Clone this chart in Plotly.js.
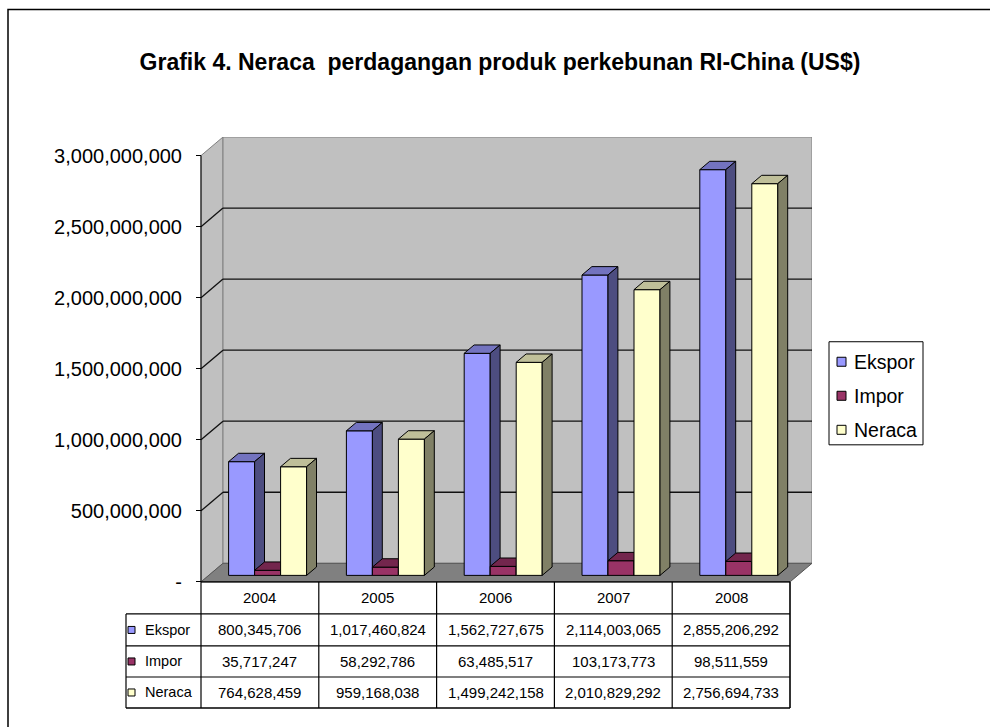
<!DOCTYPE html>
<html>
<head>
<meta charset="utf-8">
<script src="https://cdn.plot.ly/plotly-3.0.1.min.js"></script>
<style>html,body{margin:0;padding:0;background:#fff;}#chart{width:990px;height:727px;}</style>
</head>
<body>
<div id="chart"></div>
<script>
// ---- data ----
const categories = ['2004', '2005', '2006', '2007', '2008'];
const seriesNames = ['Ekspor', 'Impor', 'Neraca'];
const ekspor = [800345706, 1017460824, 1562727675, 2114003065, 2855206292];
const impor = [35717247, 58292786, 63485517, 103173773, 98511559];
const neraca = [764628459, 959168038, 1499242158, 2010829292, 2756694733];
const yTickVals = [0, 500000000, 1000000000, 1500000000, 2000000000, 2500000000, 3000000000];
const yTickText = ['-', '500,000,000', '1,000,000,000', '1,500,000,000', '2,000,000,000', '2,500,000,000', '3,000,000,000'];
const titleText = 'Grafik 4. Neraca  perdagangan produk perkebunan RI-China (US$)';

// ---- styles / geometry ----
const FONT = 'Arial, "Liberation Sans", Helvetica, sans-serif';
const faceColors = [
  {front: '#9999FF', top: '#7373BF', side: '#4D4D80'},
  {front: '#993366', top: '#73264D', side: '#4D1A33'},
  {front: '#FFFFCC', top: '#BFBF99', side: '#808066'}
];
const W = 990, H = 727;
const L = 120, R = 812, T = 137.4, B = 712;     // plot area in px
const X0 = 201, XF = 790, Y0 = 582;              // front axis origin px
const nCat = categories.length;
const kx = (XF - X0) / nCat;                     // px per category
const yMaxTick = yTickVals[yTickVals.length - 1];
const ky = (Y0 - 156) / yMaxTick;                // px per unit value
const DX = 22 / kx, DY = 18.6 / ky;              // depth vector in data units
const d0 = 0.35, d1 = 0.8;                       // bar depth span
const barW = 26 / kx;
const gapOff = (1 - seriesNames.length * barW) / 2;

const px2x = p => (p - X0) / kx;
const px2y = p => (Y0 - p) / ky;
const pxp = p => (p - L) / (R - L);
const pyp = p => (B - p) / (B - T);

const series = [ekspor, impor, neraca];
const traces = [];
series.forEach((vals, s) => {
  const faces = {front: {x: [], y: []}, top: {x: [], y: []}, side: {x: [], y: []}};
  vals.forEach((v, i) => {
    const x0 = i + gapOff + s * barW + d0 * DX;
    const x1 = x0 + barW;
    const y0 = d0 * DY;
    const y1 = v + d0 * DY;
    const ex = (d1 - d0) * DX, ey = (d1 - d0) * DY;
    const push = (f, xs, ys) => { faces[f].x.push(...xs, xs[0], null); faces[f].y.push(...ys, ys[0], null); };
    push('front', [x0, x1, x1, x0], [y0, y0, y1, y1]);
    push('top', [x0, x1, x1 + ex, x0 + ex], [y1, y1, y1 + ey, y1 + ey]);
    push('side', [x1, x1 + ex, x1 + ex, x1], [y0, y0 + ey, y1 + ey, y1]);
  });
  ['front', 'top', 'side'].forEach(f => {
    traces.push({
      type: 'scatter', mode: 'lines', x: faces[f].x, y: faces[f].y,
      fill: 'toself', fillcolor: faceColors[s][f],
      line: {color: '#000', width: 1}, hoverinfo: 'skip', showlegend: false,
      name: seriesNames[s]
    });
  });
});

// ---- shapes: walls, floor, gridlines ----
const shapes = [];
const yTop = yMaxTick;
shapes.push({type: 'path', xref: 'x', yref: 'y', layer: 'below',
  path: `M0,0 L${DX},${DY} L${DX},${yTop + DY} L0,${yTop} Z`,
  fillcolor: '#C0C0C0', line: {color: '#808080', width: 1}});
shapes.push({type: 'rect', xref: 'x', yref: 'y', layer: 'below',
  x0: DX, x1: nCat + DX, y0: DY, y1: yTop + DY,
  fillcolor: '#C0C0C0', line: {color: '#808080', width: 1}});
shapes.push({type: 'path', xref: 'x', yref: 'y', layer: 'below',
  path: `M0,0 L${nCat},0 L${nCat + DX},${DY} L${DX},${DY} Z`,
  fillcolor: '#808080', line: {color: '#555', width: 1}});
yTickVals.forEach(v => {
  if (v === 0 || v === yTop) return;
  shapes.push({type: 'line', xref: 'x', yref: 'y', layer: 'below',
    x0: DX, x1: nCat + DX, y0: v + DY, y1: v + DY, line: {color: '#111', width: 1.3}});
  shapes.push({type: 'line', xref: 'x', yref: 'y', layer: 'below',
    x0: 0, x1: DX, y0: v, y1: v + DY, line: {color: '#111', width: 1.3}});
});
shapes.push({type: 'line', xref: 'x', yref: 'y', x0: 0, x1: 0, y0: 0, y1: yTop, line: {color: '#000', width: 1}});

// ---- data table ----
const rowPx = [582, 614, 646, 677, 708];
const headLeftPx = 126;
const annotations = [];
shapes.push({type: 'line', xref: 'x', yref: 'y', x0: 0, x1: nCat, y0: 0, y1: 0, line: {color: '#000', width: 1.2}});
for (let r = 1; r < rowPx.length; r++) {
  shapes.push({type: 'line', xref: 'x', yref: 'y', x0: px2x(headLeftPx), x1: nCat, y0: px2y(rowPx[r]), y1: px2y(rowPx[r]),
    line: {color: '#000', width: r === rowPx.length - 1 ? 1.6 : 1.2}});
}
for (let c = 0; c <= nCat; c++) {
  shapes.push({type: 'line', xref: 'x', yref: 'y', x0: c, x1: c, y0: 0, y1: px2y(rowPx[rowPx.length - 1]),
    line: {color: '#000', width: c === nCat ? 1.6 : 1.2}});
}
shapes.push({type: 'line', xref: 'x', yref: 'y', x0: px2x(headLeftPx), x1: px2x(headLeftPx), y0: px2y(rowPx[1]), y1: px2y(rowPx[4]),
  line: {color: '#000', width: 1.2}});

const fmt = v => v.toLocaleString('en-US');
categories.forEach((c, i) => {
  annotations.push({xref: 'x', yref: 'y', x: i + 0.5, y: px2y((rowPx[0] + rowPx[1]) / 2), text: c, showarrow: false,
    font: {family: FONT, size: 15, color: '#000'}, xanchor: 'center', yanchor: 'middle'});
  series.forEach((vals, s) => {
    annotations.push({xref: 'x', yref: 'y', x: i + 0.5, y: px2y((rowPx[s + 1] + rowPx[s + 2]) / 2), text: fmt(vals[i]), showarrow: false,
      font: {family: FONT, size: 15, color: '#000'}, xanchor: 'center', yanchor: 'middle'});
  });
});
seriesNames.forEach((n, s) => {
  const cy = (rowPx[s + 1] + rowPx[s + 2]) / 2;
  shapes.push({type: 'rect', xref: 'paper', yref: 'paper', x0: pxp(128), x1: pxp(135), y0: pyp(cy + 3.5), y1: pyp(cy - 3.5),
    fillcolor: faceColors[s].front, line: {color: '#000', width: 1}});
  annotations.push({xref: 'paper', yref: 'paper', x: pxp(143), y: pyp(cy), text: n, showarrow: false,
    font: {family: FONT, size: 14.5, color: '#000'}, xanchor: 'left', yanchor: 'middle'});
});

// ---- legend (manual) ----
shapes.push({type: 'rect', xref: 'paper', yref: 'paper', x0: pxp(829), x1: pxp(923), y0: pyp(445), y1: pyp(342),
  fillcolor: '#fff', line: {color: '#000', width: 1}});
const legY = [362, 396, 430];
seriesNames.forEach((n, s) => {
  shapes.push({type: 'rect', xref: 'paper', yref: 'paper', x0: pxp(837), x1: pxp(846), y0: pyp(legY[s] + 4.5), y1: pyp(legY[s] - 4.5),
    fillcolor: faceColors[s].front, line: {color: '#000', width: 1}});
  annotations.push({xref: 'paper', yref: 'paper', x: pxp(852), y: pyp(legY[s]), text: n, showarrow: false,
    font: {family: FONT, size: 19.5, color: '#000'}, xanchor: 'left', yanchor: 'middle'});
});

// ---- outer frame ----
shapes.push({type: 'rect', xref: 'paper', yref: 'paper', x0: pxp(8), x1: pxp(1005), y0: pyp(740), y1: pyp(10),
  line: {color: '#000', width: 1.5}, fillcolor: 'rgba(0,0,0,0)'});

const layout = {
  width: W, height: H,
  margin: {l: L, r: W - R, t: T, b: H - B, pad: 0},
  paper_bgcolor: '#fff', plot_bgcolor: 'rgba(0,0,0,0)',
  showlegend: false,
  title: {text: '<b>' + titleText + '</b>', x: 500 / W, xref: 'container', xanchor: 'center',
    y: 1 - 62 / H, yref: 'container', yanchor: 'middle', font: {family: FONT, size: 23, color: '#000'}},
  xaxis: {range: [px2x(L), px2x(R)], visible: false, fixedrange: true},
  yaxis: {range: [px2y(B), px2y(T)], anchor: 'free', position: pxp(X0), side: 'left',
    tickvals: yTickVals, ticktext: yTickText, ticks: 'outside', ticklen: 5, tickcolor: '#000', tickwidth: 1,
    showgrid: false, zeroline: false, showline: false, ticklabelstandoff: 10,
    tickfont: {family: FONT, size: 20, color: '#000'}, fixedrange: true},
  shapes: shapes,
  annotations: annotations
};

Plotly.newPlot('chart', traces, layout, {displayModeBar: false, staticPlot: true});
</script>
</body>
</html>
